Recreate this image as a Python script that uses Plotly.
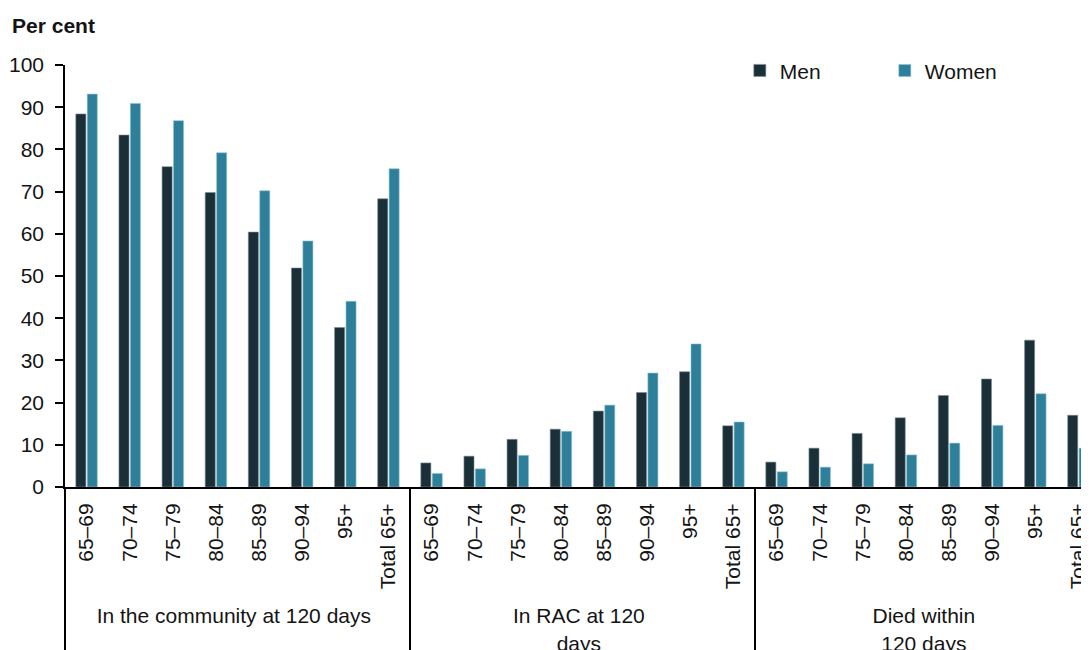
import plotly.graph_objects as go

groups = ["In the community at 120 days", "In RAC at 120<br>days", "Died within<br>120 days"]
ages = ["65–69", "70–74", "75–79", "80–84", "85–89", "90–94", "95+", "Total 65+"]

men_community = [88.4, 83.4, 75.9, 69.8, 60.4, 51.9, 37.8, 68.3]
women_community = [93.1, 90.9, 86.8, 79.2, 70.2, 58.3, 44.0, 75.4]
men_rac = [5.7, 7.3, 11.3, 13.7, 18.0, 22.4, 27.3, 14.5]
women_rac = [3.2, 4.3, 7.5, 13.2, 19.4, 27.0, 33.9, 15.4]
men_died = [5.9, 9.2, 12.7, 16.4, 21.7, 25.6, 34.8, 17.0]
women_died = [3.6, 4.7, 5.5, 7.6, 10.4, 14.6, 22.1, 9.2]

x_outer = [g for g in groups for _ in ages]
x_inner = ages * len(groups)
men = men_community + men_rac + men_died
women = women_community + women_rac + women_died

MEN_C = "#1a2f38"
WOMEN_C = "#2d7f9a"
FONT = "Liberation Sans, Arial, sans-serif"
TXT = "#141414"

fig = go.Figure()
fig.add_trace(go.Bar(x=[x_outer, x_inner], y=men, name="Men", marker_color=MEN_C,
                     marker_line=dict(width=0.6, color="#7d8b91")))
fig.add_trace(go.Bar(x=[x_outer, x_inner], y=women, name="Women", marker_color=WOMEN_C,
                     marker_line=dict(width=0.6, color="#8cc2d2")))

fig.update_layout(
    width=1092, height=660,
    margin=dict(l=57, r=0, t=57, b=181),
    paper_bgcolor="white", plot_bgcolor="white",
    font=dict(family=FONT, size=21, color=TXT),
    barmode="group", bargap=0.47, bargroupgap=0.12,
    showlegend=True,
    legend=dict(orientation="h", x=0.652, y=1.035, xanchor="left", yanchor="top",
                entrywidth=100, entrywidthmode="pixels",
                font=dict(size=21, family=FONT, color=TXT), bgcolor="rgba(0,0,0,0)"),
    title=dict(text="<b>Per cent</b>", x=0.0037, xref="container", xanchor="left",
               y=0.973, yref="container", yanchor="middle",
               font=dict(size=21, family=FONT, color=TXT)),
)

fig.update_xaxes(type="multicategory", range=[-0.5, 23.5], showline=True, linecolor="black",
                 linewidth=2, ticks="", tickangle=-90, showdividers=True,
                 dividercolor="black", dividerwidth=1.5, showgrid=False, automargin=False,
                 ticklabelstandoff=6,
                 tickfont=dict(size=21, family=FONT, color=TXT))
fig.update_yaxes(range=[0, 100], dtick=10, showline=True, linecolor="black", linewidth=1.5,
                 ticks="outside", ticklen=8, tickcolor="black", tickwidth=1.5,
                 showgrid=False, zeroline=False, automargin=False,
                 ticklabelstandoff=7,
                 tickfont=dict(size=21, family=FONT, color=TXT))

fig.write_html("out.html")
